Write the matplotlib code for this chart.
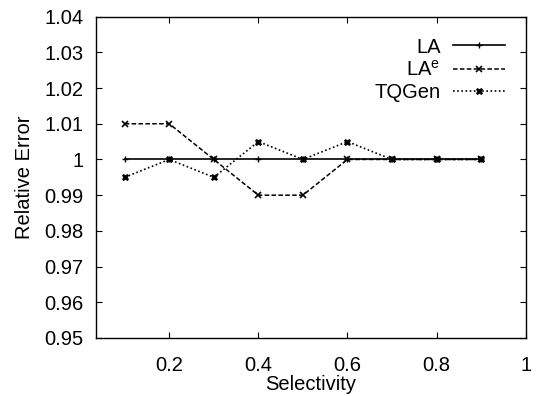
import matplotlib
matplotlib.use("Agg")
import matplotlib.pyplot as plt
from matplotlib.ticker import FuncFormatter, MultipleLocator

plt.rcParams['font.family'] = ['Liberation Sans', 'DejaVu Sans']

selectivity = [0.1, 0.2, 0.3, 0.4, 0.5, 0.6, 0.7, 0.8, 0.9]
la = [1.0, 1.0, 1.0, 1.0, 1.0, 1.0, 1.0, 1.0, 1.0]
la_e = [1.01, 1.01, 1.0, 0.99, 0.99, 1.0, 1.0, 1.0, 1.0]
tqgen = [0.995, 1.0, 0.995, 1.005, 1.0, 1.005, 1.0, 1.0, 1.0]

fs = 14.5

fig = plt.figure(figsize=(5.38, 3.96), dpi=100)
ax = fig.add_axes([0.178, 0.1465, 0.799, 0.8115])

ax.plot(selectivity, la, color='black', lw=1.2, marker='+', ms=5, mew=1, label='LA')
ax.plot(selectivity, la_e, color='black', lw=1.1, ls=(0, (3, 1.5)), marker='x', ms=4.5, mew=1.2,
        label='LA$^\\mathregular{e}$')
ax.plot(selectivity, tqgen, color='black', lw=1.2, ls=(0, (1, 1.5)), marker='X', ms=5, mew=0.5,
        label='TQGen')

ax.set_xlim(0.035, 1.0)
ax.set_ylim(0.95, 1.04)
ax.xaxis.set_major_locator(MultipleLocator(0.2))
ax.yaxis.set_major_locator(MultipleLocator(0.01))
fmt = FuncFormatter(lambda v, p: '%g' % round(v, 4))
ax.xaxis.set_major_formatter(fmt)
ax.yaxis.set_major_formatter(fmt)
ax.tick_params(direction='in', length=4, width=0.8, top=True, right=True, labelsize=fs)
ax.tick_params(axis='y', pad=9)
ax.tick_params(axis='x', pad=13)
for s in ax.spines.values():
    s.set_linewidth(1.0)

ax.set_xlabel('Selectivity', fontsize=fs, labelpad=0)
ax.set_ylabel('Relative Error', fontsize=fs, labelpad=7)

ax.legend(loc='upper right', frameon=False, markerfirst=False, fontsize=fs,
          handlelength=2.6, handletextpad=0.6, labelspacing=0.17,
          borderpad=0, borderaxespad=0, bbox_to_anchor=(0.952, 0.935))

fig.savefig('out.png', dpi=100)
